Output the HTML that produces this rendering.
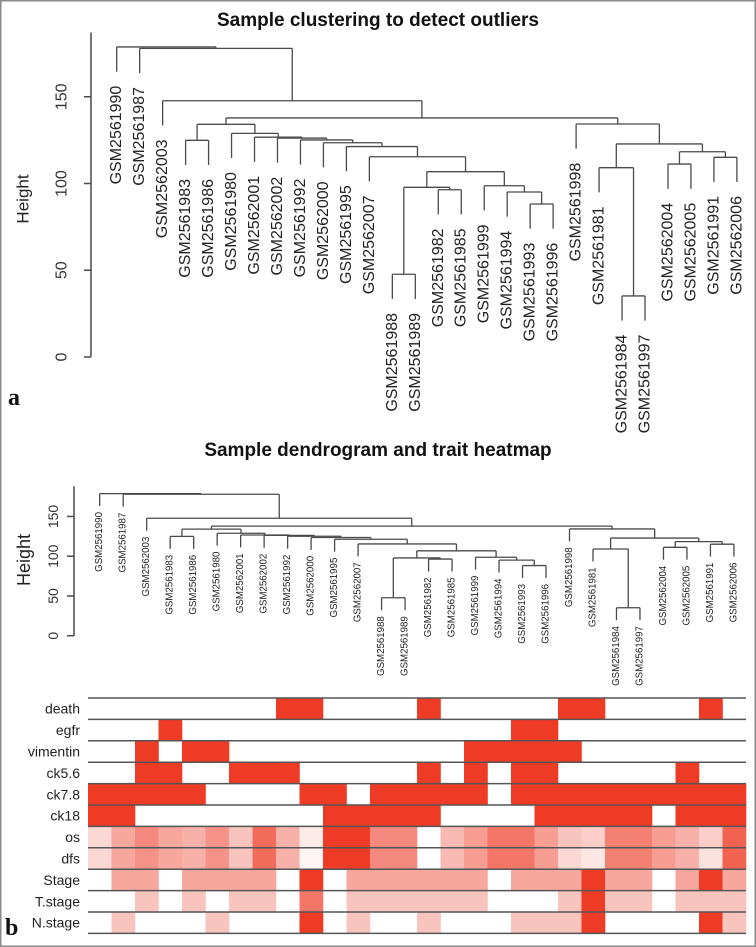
<!DOCTYPE html>
<html><head><meta charset="utf-8">
<style>
html,body{margin:0;padding:0;background:#fff;}
svg{display:block;}
text{font-family:"Liberation Sans",Arial,sans-serif;}
</style></head>
<body>
<svg id="fig" width="756" height="947" viewBox="0 0 756 947" xmlns="http://www.w3.org/2000/svg">
<rect x="0.75" y="0.75" width="754.5" height="945.5" fill="#fff" stroke="#8a8a8a" stroke-width="1.5"/>
<text x="378" y="26" text-anchor="middle" font-size="19" font-weight="bold" fill="#111">Sample clustering to detect outliers</text>
<text x="378" y="456" text-anchor="middle" font-size="19" font-weight="bold" fill="#111">Sample dendrogram and trait heatmap</text>
<text x="8" y="405" style="font-family:'Liberation Serif',serif" font-size="24" font-weight="bold" fill="#111">a</text>
<text x="5" y="935" style="font-family:'Liberation Serif',serif" font-size="24" font-weight="bold" fill="#111">b</text>
<g id="top"></g>
<g id="bot"></g>
<g id="heat"></g>
</svg>
<script>
const sampleNames = ["GSM2561990","GSM2561987","GSM2562003","GSM2561983","GSM2561986","GSM2561980","GSM2562001","GSM2562002","GSM2561992","GSM2562000","GSM2561995","GSM2562007","GSM2561988","GSM2561989","GSM2561982","GSM2561985","GSM2561999","GSM2561994","GSM2561993","GSM2561996","GSM2561998","GSM2561981","GSM2561984","GSM2561997","GSM2562004","GSM2562005","GSM2561991","GSM2562006"];
// merges: negative = leaf -(i+1), positive = merge index (1-based)
const mergeLeft  = [-23,-13,-19,-18,-15,2,-17,6,-22,-25,-27,-12,10,-11,9,-10,-4,-9,-8,-7,-6,17,-21,22,-3,-2,-1];
const mergeRight = [-24,-14,-20,3,-16,5,4,7,1,-26,-28,8,11,12,13,14,-5,16,18,19,20,21,15,23,24,25,26];
const mergeHeight = [35.2,47.7,88.2,95.1,96.4,97.8,98.7,106.8,109.1,111.2,115.1,115.4,118.3,121.3,122.8,123.5,124.9,125.1,126.2,126.7,128.9,134.1,134.3,137.8,147.7,177.9,178.7];
const yTicks = [0,50,100,150];
const traitNames = ["death","egfr","vimentin","ck5.6","ck7.8","ck18","os","dfs","Stage","T.stage","N.stage"];
const deathVals   = [0,0,0,0,0,0,0,0,1,1,0,0,0,0,1,0,0,0,0,0,1,1,0,0,0,0,1,0];
const egfrVals    = [0,0,0,1,0,0,0,0,0,0,0,0,0,0,0,0,0,0,1,1,0,0,0,0,0,0,0,0];
const vimentinVals= [0,0,1,0,1,1,0,0,0,0,0,0,0,0,0,0,1,1,1,1,1,0,0,0,0,0,0,0];
const ck56Vals    = [0,0,1,1,0,0,1,1,1,0,0,0,0,0,1,0,1,0,1,1,0,0,0,0,0,1,0,0];
const ck78Vals    = [1,1,1,1,1,0,0,0,0,1,1,0,1,1,1,1,1,0,1,1,1,1,1,1,1,1,1,1];
const ck18Vals    = [1,1,0,0,0,0,0,0,0,0,1,1,1,1,1,0,0,0,0,1,1,1,1,1,0,1,1,1];
const osVals      = [0.2,0.45,0.6,0.45,0.4,0.55,0.3,0.75,0.4,0.1,1,1,0.6,0.6,0,0.35,0.5,0.7,0.7,0.5,0.3,0.25,0.65,0.65,0.5,0.4,0.25,0.8];
const dfsVals     = [0.2,0.45,0.55,0.45,0.4,0.55,0.3,0.75,0.4,0.05,1,1,0.6,0.6,0,0.35,0.5,0.7,0.7,0.5,0.2,0.12,0.65,0.65,0.5,0.4,0.15,0.8];
const stageVals   = [0,0.45,0.45,0,0.45,0.45,0.45,0.45,0,1,0,0.45,0.45,0.45,0.45,0.45,0.45,0,0.45,0.45,0.45,1,0.45,0.45,0,0.45,1,0.45];
const tstageVals  = [0,0,0.3,0,0.3,0,0.3,0.3,0,0.7,0,0.3,0.3,0.3,0.3,0.3,0.3,0,0,0,0.3,1,0.3,0.3,0,0.3,0.3,0.3];
const nstageVals  = [0,0.3,0,0,0,0.3,0,0,0,1,0,0.3,0,0,0.3,0,0,0,0.3,0.3,0.3,1,0,0,0,0,1,0.3];
const traitValues = [deathVals,egfrVals,vimentinVals,ck56Vals,ck78Vals,ck18Vals,osVals,dfsVals,stageVals,tstageVals,nstageVals];

const NS="http://www.w3.org/2000/svg";
function mk(tag, attrs, parent){const e=document.createElementNS(NS,tag);for(const k in attrs)e.setAttribute(k,attrs[k]);parent.appendChild(e);return e;}

function drawDendro(g, cfg){
  const xLeaf=i=>cfg.x0+cfg.dx*i;
  const yH=h=>cfg.y0-h*cfg.ky;
  const nodeX=[];
  const getX=c=>c<0?xLeaf(-c-1):nodeX[c-1];
  const stroke="#4a4a4a";
  const ax=mk("line",{x1:cfg.axX,x2:cfg.axX,y1:yH(0),y2:yH(cfg.axTop),stroke:stroke,"stroke-width":1.5},g);
  
  
  yTicks.forEach(t=>{
    const tl=mk("line",{x1:cfg.axX-7,x2:cfg.axX,y1:yH(t),y2:yH(t),stroke:stroke,"stroke-width":1.5},g);
    
    
    const tx=mk("text",{x:cfg.tickX,y:yH(t),"font-size":cfg.tickFs,fill:"#333","text-anchor":"middle","dominant-baseline":"central",transform:`rotate(-90 ${cfg.tickX} ${yH(t)})`},g);
    tx.textContent=t;
    
    
  });
  const yl=mk("text",{x:cfg.ylabX,y:cfg.ylabY,"font-size":cfg.ylabFs,fill:"#222","text-anchor":"middle","dominant-baseline":"central",transform:`rotate(-90 ${cfg.ylabX} ${cfg.ylabY})`},g);
  yl.textContent="Height";
  
  
  for(let k=0;k<mergeHeight.length;k++){
    const a=mergeLeft[k],b=mergeRight[k],h=mergeHeight[k];
    const xa=getX(a),xb=getX(b);
    nodeX[k]=(xa+xb)/2;
    const yh=yH(h);
    [[a,xa],[b,xb]].forEach(([c,xc])=>{
      const yb=c<0?yh+cfg.hang:yH(mergeHeight[c-1]);
      const v=mk("line",{x1:xc,x2:xc,y1:yh,y2:yb,stroke:stroke,"stroke-width":1.3},g);
      
      
      if(c<0){
        const i=-c-1,ty=yb+cfg.gap;
        const t=mk("text",{x:xc,y:ty,"font-size":cfg.labFs,fill:"#222","text-anchor":"end","dominant-baseline":"central",transform:`rotate(-90 ${xc} ${ty})`},g);
        t.textContent=sampleNames[i];
        
        
      }
    });
    const hz=mk("line",{x1:xa,x2:xb,y1:yh,y2:yh,stroke:stroke,"stroke-width":1.3},g);
    
    
  }
}
drawDendro(document.getElementById("top"),{x0:116.7,dx:22.97,y0:357,ky:1.735,axX:91,axTop:187,tickX:62,tickFs:16,ylabX:23,ylabY:199,ylabFs:17,hang:24.7,gap:14,labFs:16});
drawDendro(document.getElementById("bot"),{x0:99.7,dx:23.49,y0:635.7,ky:0.795,axX:74,axTop:188,tickX:53,tickFs:14,ylabX:24,ylabY:560,ylabFs:18,hang:12.4,gap:6,labFs:9.7});

(function(){
  const g=document.getElementById("heat");
  const x0=88,cw=23.5,y0=698,rh=21.4,n=sampleNames.length;
  const col=v=>`rgb(${Math.round(255-17*v)},${Math.round(255-196*v)},${Math.round(255-217*v)})`;
  traitNames.forEach((name,r)=>{
    const vals=traitValues[r];
    vals.forEach((v,c)=>{
      if(v<=0)return;
      const cell=mk("rect",{x:x0+c*cw,y:y0+r*rh,width:cw+0.3,height:rh,fill:col(v)},g);
      
      
    });
    const lab=mk("text",{x:80,y:y0+r*rh+rh/2,"font-size":14,fill:"#222","text-anchor":"end","dominant-baseline":"central"},g);
    lab.textContent=name;
    
    
  });
  for(let r=0;r<=traitNames.length;r++){
    const l=mk("line",{x1:x0,x2:x0+n*cw,y1:y0+r*rh,y2:y0+r*rh,stroke:"#555","stroke-width":1.5},g);
    
    
  }
})();
</script>
</body></html>
